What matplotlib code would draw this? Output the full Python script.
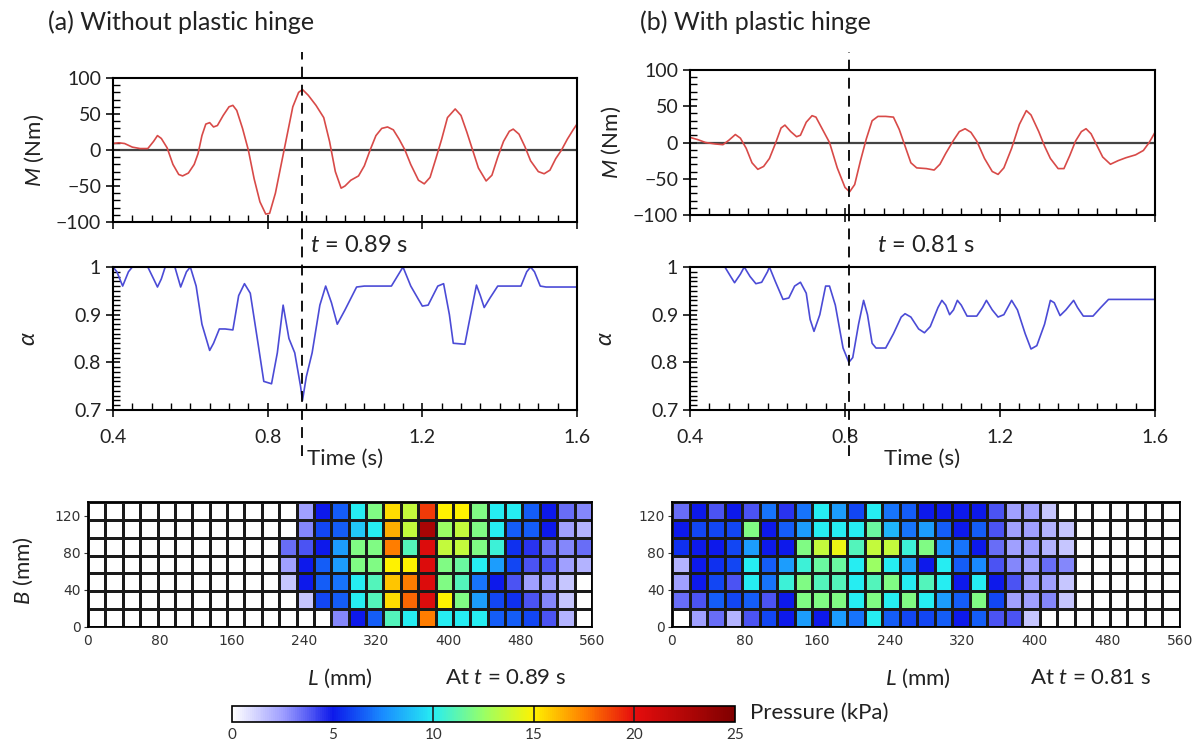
import numpy as np
import matplotlib
matplotlib.use('Agg')
import matplotlib.pyplot as plt
from matplotlib.colors import LinearSegmentedColormap
from matplotlib.ticker import MultipleLocator, FuncFormatter

plt.rcParams['font.family'] = ['Lato', 'DejaVu Sans']
plt.rcParams['mathtext.fontset'] = 'custom'
plt.rcParams['mathtext.it'] = 'Lato:italic'
plt.rcParams['mathtext.rm'] = 'Lato'

# (a) moment, no plastic hinge
ta_m = [0.400, 0.415, 0.430, 0.450, 0.470, 0.490, 0.505, 0.515, 0.525, 0.540, 0.555, 0.570, 0.580, 0.595,
        0.610, 0.620, 0.630, 0.640, 0.650, 0.660, 0.670, 0.685, 0.700, 0.710, 0.720, 0.735, 0.750, 0.765,
        0.780, 0.795, 0.805, 0.820, 0.835, 0.850, 0.865, 0.880, 0.890, 0.905, 0.925, 0.945, 0.960, 0.975,
        0.990, 1.000, 1.015, 1.035, 1.050, 1.065, 1.080, 1.095, 1.110, 1.125, 1.140, 1.155, 1.170, 1.190,
        1.205, 1.220, 1.235, 1.250, 1.265, 1.285, 1.300, 1.315, 1.330, 1.345, 1.365, 1.380, 1.395, 1.410,
        1.425, 1.435, 1.450, 1.465, 1.480, 1.500, 1.515, 1.530, 1.545, 1.560, 1.575, 1.590, 1.600]
ma = [9, 10, 9, 4, 2, 2, 12, 20, 16, 3, -20, -34, -36, -32,
      -20, -5, 20, 36, 38, 32, 34, 48, 60, 62, 55, 30, 0, -40,
      -72, -89, -88, -60, -20, 20, 60, 80, 84, 76, 62, 45, 12, -30,
      -53, -50, -42, -36, -22, 0, 20, 30, 32, 28, 15, 0, -20, -42,
      -47, -38, -12, 15, 45, 57, 48, 25, 0, -25, -43, -35, -10, 12,
      26, 29, 22, 5, -15, -30, -33, -28, -12, 0, 15, 28, 36]

# (b) moment, with plastic hinge
tb_m = [0.400, 0.420, 0.440, 0.465, 0.485, 0.500, 0.517, 0.530, 0.545, 0.560, 0.575, 0.590, 0.605, 0.620,
        0.635, 0.645, 0.660, 0.675, 0.685, 0.700, 0.715, 0.725, 0.740, 0.760, 0.780, 0.800, 0.812, 0.825,
        0.840, 0.855, 0.870, 0.885, 0.905, 0.925, 0.940, 0.955, 0.970, 0.985, 1.010, 1.030, 1.045, 1.060,
        1.080, 1.095, 1.110, 1.125, 1.140, 1.160, 1.180, 1.195, 1.210, 1.230, 1.250, 1.268, 1.280, 1.300,
        1.315, 1.330, 1.350, 1.365, 1.380, 1.395, 1.410, 1.422, 1.435, 1.450, 1.465, 1.485, 1.505, 1.525,
        1.550, 1.570, 1.585, 1.600]
mb = [7, 4, 0, -2, -3, 3, 11, 6, -8, -28, -37, -33, -22, -2,
      20, 24, 15, 8, 10, 28, 37, 35, 20, 0, -35, -62, -68, -58,
      -25, 5, 30, 36, 36, 35, 18, -5, -28, -35, -36, -38, -30, -15,
      3, 15, 19, 14, 2, -22, -40, -44, -35, -8, 25, 44, 38, 15,
      -5, -22, -36, -36, -18, 2, 15, 19, 12, -4, -20, -30, -25, -21,
      -17, -11, 0, 14]

# (a) alpha
ta_a = [0.400, 0.410, 0.425, 0.440, 0.450, 0.490, 0.505, 0.515, 0.525, 0.535, 0.560, 0.575, 0.590, 0.600,
        0.615, 0.630, 0.650, 0.660, 0.675, 0.690, 0.710, 0.725, 0.740, 0.755, 0.775, 0.790, 0.810, 0.825,
        0.840, 0.855, 0.870, 0.885, 0.890, 0.900, 0.915, 0.935, 0.950, 0.965, 0.980, 1.000, 1.030, 1.050,
        1.120, 1.135, 1.150, 1.170, 1.200, 1.215, 1.240, 1.255, 1.270, 1.280, 1.310, 1.320, 1.340, 1.350,
        1.360, 1.375, 1.395, 1.455, 1.470, 1.480, 1.490, 1.505, 1.520, 1.600]
aa = [1.0, 0.99, 0.96, 0.99, 1.0, 1.0, 0.975, 0.958, 0.975, 1.0, 1.0, 0.958, 0.99, 1.0,
      0.96, 0.88, 0.825, 0.84, 0.87, 0.87, 0.868, 0.94, 0.965, 0.945, 0.84, 0.76, 0.755, 0.82,
      0.92, 0.85, 0.82, 0.75, 0.72, 0.77, 0.82, 0.92, 0.96, 0.925, 0.88, 0.91, 0.958, 0.96,
      0.96, 0.98, 1.0, 0.96, 0.918, 0.92, 0.96, 0.965, 0.9, 0.84, 0.838, 0.88, 0.962, 0.94,
      0.915, 0.935, 0.96, 0.96, 0.99, 1.0, 0.99, 0.96, 0.958, 0.958]

# (b) alpha
tb_a = [0.400, 0.490, 0.505, 0.515, 0.530, 0.540, 0.555, 0.570, 0.585, 0.600, 0.605, 0.620, 0.640, 0.655,
        0.670, 0.685, 0.700, 0.710, 0.720, 0.735, 0.750, 0.760, 0.775, 0.795, 0.810, 0.820, 0.835, 0.848,
        0.858, 0.870, 0.880, 0.905, 0.925, 0.945, 0.955, 0.970, 0.990, 1.005, 1.020, 1.040, 1.050, 1.060,
        1.070, 1.080, 1.090, 1.100, 1.115, 1.140, 1.155, 1.165, 1.180, 1.195, 1.210, 1.230, 1.245, 1.265,
        1.280, 1.295, 1.315, 1.330, 1.340, 1.355, 1.370, 1.390, 1.400, 1.415, 1.440, 1.460, 1.480, 1.600]
ab = [1.0, 1.0, 0.98, 0.967, 0.985, 1.0, 0.98, 0.965, 0.968, 0.99, 1.0, 0.97, 0.932, 0.935,
      0.96, 0.968, 0.945, 0.89, 0.865, 0.9, 0.96, 0.96, 0.92, 0.83, 0.80, 0.81, 0.88, 0.93,
      0.9, 0.84, 0.83, 0.83, 0.86, 0.895, 0.902, 0.895, 0.87, 0.862, 0.875, 0.915, 0.93, 0.92,
      0.9, 0.91, 0.93, 0.92, 0.897, 0.897, 0.915, 0.93, 0.91, 0.895, 0.9, 0.93, 0.91, 0.86,
      0.828, 0.835, 0.88, 0.93, 0.925, 0.898, 0.91, 0.93, 0.915, 0.897, 0.897, 0.915, 0.932, 0.932]

# pressure maps (kPa), rows from top (B ~ 130 mm) to bottom (B = 0), 29 sensor columns along L
press_a = [
    [0]*12 + [2.5, 5, 6.5, 10, 12, 15.5, 13.5, 19, 15, 15, 12, 10, 10, 6.5, 5, 3.5, 3],
    [0]*12 + [3, 6, 6.5, 9, 10, 16.5, 13.5, 23, 12.5, 13.5, 12, 10, 6.5, 6.5, 5, 2.5, 2],
    [0]*11 + [3.5, 4, 5, 8, 12, 12, 17.5, 11, 20.5, 13.5, 13.5, 12, 10.5, 5.5, 4.5, 3.5, 3, 3.5],
    [0]*11 + [2.5, 5, 6.5, 8, 12, 12, 15, 15, 20.5, 12, 11.5, 10, 8, 6, 4, 4, 2.5, 2],
    [0]*11 + [1.5, 5, 6.5, 7, 10, 11, 16, 17.5, 20.5, 12, 11, 7, 5, 4, 2.5, 2.5, 1.5, 0],
    [0]*12 + [1.5, 6, 6.5, 10, 11, 15.5, 18, 20.5, 15, 12, 8, 6, 5.5, 4, 3, 1.5, 0],
    [0]*14 + [3, 5, 6.5, 11, 10, 17.5, 10, 10, 10, 6.5, 6.5, 6, 4, 2, 0],
]
press_b = [
    [3.5, 5, 4, 5, 4, 7, 4.5, 7, 10, 8, 6, 10, 7, 6.5, 5, 5, 5, 5, 4, 2.5, 2.5, 1.5] + [0]*7,
    [5, 6, 6, 6, 12, 5, 6.5, 8, 10, 10, 10, 11.5, 8.5, 7, 8, 6.5, 5, 6.5, 4, 2.5, 2.5, 2, 1.5] + [0]*6,
    [5.5, 5, 5, 6, 8, 5, 5, 12, 13.5, 14.5, 11, 13.5, 13.5, 10.5, 12, 8, 7, 5, 3.5, 2.5, 2.5, 2, 1.5] + [0]*6,
    [2, 5, 5.5, 6, 10, 6.5, 8, 10.5, 11.5, 11.5, 10, 12.5, 10, 8, 5, 10, 6.5, 7.5, 4, 3, 2.5, 3.5, 3] + [0]*6,
    [2.5, 5, 6, 4, 10, 7, 10.5, 12, 11, 11, 10, 11, 12, 10, 11, 10, 5, 10, 5, 4, 2.5, 2.5, 1.5] + [0]*6,
    [3.5, 4, 6.5, 6, 6.5, 4, 5, 12, 12, 12, 10, 12, 10, 12, 10, 8, 6.5, 12, 6, 2.5, 2.5, 3, 1.5] + [0]*6,
    [0, 2.5, 3.5, 2, 4, 6, 5, 8, 5, 8, 7, 10, 6.5, 6, 6, 6.5, 5, 6.5, 4, 4, 1.5] + [0]*8,
]

cmap = LinearSegmentedColormap.from_list('press', [
    (0.0, (1, 1, 1)), (0.1, (0.62, 0.62, 1.0)), (0.2, (0.05, 0.1, 0.92)),
    (0.3, (0.1, 0.55, 1.0)), (0.4, (0.15, 0.93, 0.95)), (0.5, (0.6, 1.0, 0.4)),
    (0.6, (1.0, 0.95, 0.0)), (0.7, (1.0, 0.5, 0.0)), (0.8, (0.9, 0.05, 0.05)),
    (1.0, (0.5, 0.0, 0.0))])

fig = plt.figure(figsize=(12.03, 7.46), dpi=100)
W, H = 1203.0, 746.0


def box(x0, y0, x1, y1):
    return [x0 / W, 1 - y1 / H, (x1 - x0) / W, (y1 - y0) / H]


def time_axes(ax):
    ax.set_xlim(0.4, 1.6)
    ax.xaxis.set_major_locator(MultipleLocator(0.4))
    ax.xaxis.set_minor_locator(MultipleLocator(0.05))
    ax.tick_params(which='major', direction='inout', length=10, width=1.3, labelsize=14, colors='#222222')
    ax.tick_params(which='minor', direction='in', length=5, width=1.0)
    for s in ax.spines.values():
        s.set_linewidth(1.5)


panels = [
    ('(a) Without plastic hinge', ta_m, ma, ta_a, aa, 0.89, 113, 577, 78, 222, 48, 310),
    ('(b) With plastic hinge', tb_m, mb, tb_a, ab, 0.81, 690, 1155, 70, 215, 640, 877),
]
for title, tm, mm, ta, al, tcut, x0, x1, my0, my1, tx, ttx in panels:
    fig.text(tx / W, 1 - 22 / H, title, fontsize=18, va='center', ha='left', color='#222222')

    axm = fig.add_axes(box(x0, my0, x1, my1))
    time_axes(axm)
    axm.plot(tm, mm, color='#d84a48', lw=1.2)
    axm.axhline(0, color='#444444', lw=1.6, zorder=1)
    axm.set_ylim(-100, 100)
    axm.yaxis.set_major_locator(MultipleLocator(50))
    axm.yaxis.set_minor_locator(MultipleLocator(10))
    axm.tick_params(labelbottom=False)
    axm.set_ylabel('$M$ (Nm)', fontsize=16, color='#222222')
    axm.yaxis.set_label_coords(-0.145, 0.5)
    top_ext = 1 + (my0 - 52) / (my1 - my0)
    axm.axvline(tcut, ymin=0, ymax=top_ext, color='k', lw=1.3, ls=(0, (6, 4)), clip_on=False)

    axa = fig.add_axes(box(x0, 267, x1, 410))
    time_axes(axa)
    axa.plot(ta, al, color='#4b4bd6', lw=1.2)
    axa.set_ylim(0.7, 1.0)
    axa.yaxis.set_major_locator(MultipleLocator(0.1))
    axa.yaxis.set_minor_locator(MultipleLocator(0.01))
    axa.yaxis.set_major_formatter(FuncFormatter(lambda v, p: '%g' % round(v, 2)))
    axa.tick_params(axis='x', pad=9)
    axa.set_ylabel(r'$\alpha$', fontsize=17, color='#222222')
    axa.yaxis.set_label_coords(-0.16, 0.5)
    axa.set_xlabel('Time (s)', fontsize=16, color='#222222', labelpad=2)
    gap = (267 - my1) / (410 - 267)
    axa.axvline(tcut, ymin=-0.32, ymax=1 + gap, color='k', lw=1.3, ls=(0, (6, 4)), clip_on=False)

    fig.text(ttx / W, 1 - 245 / H, '$t$ = %.2f s' % tcut, fontsize=17, va='center', ha='left',
             color='#222222')

x_edges = np.linspace(0, 560, 30)
y_edges = np.linspace(0, 135, 8)
maps = [(press_a, 88, 592, 0.89, True, 340, 445), (press_b, 672, 1180, 0.81, False, 918, 1030)]
for data, x0, x1, tcut, ylab, lx, atx in maps:
    ax = fig.add_axes(box(x0, 502, x1, 627))
    mesh = ax.pcolormesh(x_edges, y_edges, np.array(data)[::-1], cmap=cmap, vmin=0, vmax=25,
                         edgecolors='#1a1a1a', linewidth=0.9)
    ax.set_xlim(0, 560)
    ax.set_ylim(0, 135)
    ax.set_xticks(np.arange(0, 561, 80))
    ax.set_yticks([0, 40, 80, 120])
    ax.tick_params(axis='x', length=0, pad=5, labelsize=10, colors='#333333')
    ax.tick_params(axis='y', length=3, pad=2, labelsize=10, colors='#333333')
    for lab in ax.get_xticklabels() + ax.get_yticklabels():
        lab.set_family(['Liberation Sans Narrow', 'DejaVu Sans'])
    for s in ax.spines.values():
        s.set_linewidth(1.3)
    if ylab:
        ax.set_ylabel('$B$ (mm)', fontsize=16, color='#222222')
        ax.yaxis.set_label_coords(-0.105, 0.45)
    fig.text(lx / W, 1 - 678 / H, '$L$ (mm)', fontsize=16, ha='center', va='center', color='#222222')
    fig.text(atx / W, 1 - 678 / H, 'At $t$ = %.2f s' % tcut, fontsize=16, ha='left', va='center',
             color='#222222')

cax = fig.add_axes(box(232, 706, 735, 722))
cb = fig.colorbar(mesh, cax=cax, orientation='horizontal', ticks=[0, 5, 10, 15, 20, 25])
cb.outline.set_linewidth(1.2)
cax.tick_params(length=0, labelsize=11, pad=4, colors='#333333')
for v in [10, 15, 20]:
    cax.axvline(v, color='#222222', lw=1.2)
fig.text(750 / W, 1 - 713 / H, 'Pressure (kPa)', fontsize=16, ha='left', va='center', color='#222222')

fig.savefig('out.png', dpi=100)
